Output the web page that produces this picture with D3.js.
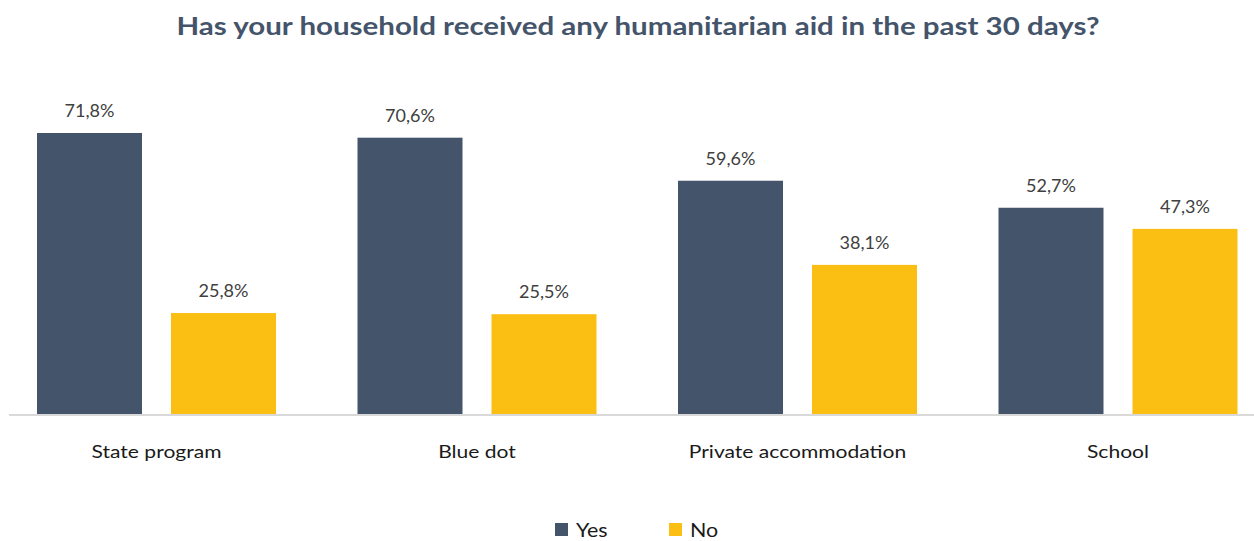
<!DOCTYPE html>
<html><head><meta charset="utf-8">
<script src="https://cdn.jsdelivr.net/npm/d3@7"></script>
<style>body{margin:0;background:#fff}svg{display:block}text{font-family:Lato,"Noto Sans",sans-serif}</style>
</head><body>
<svg id="c" width="1254" height="541"></svg>
<script>
const categories = ["State program", "Blue dot", "Private accommodation", "School"];
const seriesNames = ["Yes", "No"];
const yesValues = [71.8, 70.6, 59.6, 52.7];
const noValues = [25.8, 25.5, 38.1, 47.3];
const colors = ["#44546A", "#FBBF14"];
const title = "Has your household received any humanitarian aid in the past 30 days?";

const data = categories.map((c, i) => ({cat: c, vals: [
  {k: "Yes", v: yesValues[i]}, {k: "No", v: noValues[i]}]}));

const svg = d3.select("#c");
const baseY = 414;
const y = d3.scaleLinear().domain([0, 80]).range([baseY, baseY - 80 * (281 / 71.8)]);
const x0 = d3.scaleBand().domain(categories).range([-3.75, 1278.25]).paddingInner(0).paddingOuter(0);
const x1 = d3.scaleBand().domain(seriesNames).range([40.75, 279.75]).paddingInner(29 / 134).paddingOuter(0);
const color = d3.scaleOrdinal().domain(seriesNames).range(colors);

svg.append("text").attr("transform", "translate(638,35) scale(1.18,1)").attr("text-anchor", "middle")
  .attr("font-size", 25).attr("font-weight", 700).attr("fill", "#44546A").text(title);

// axis line
svg.append("line").attr("x1", 9).attr("x2", 1254).attr("y1", baseY + 1).attr("y2", baseY + 1)
  .attr("stroke", "#D9D9D9").attr("stroke-width", 2);

const g = svg.selectAll("g.cat").data(data).join("g").attr("class", "cat")
  .attr("transform", d => `translate(${x0(d.cat)},0)`);
g.selectAll("rect").data(d => d.vals).join("rect")
  .attr("x", d => x1(d.k)).attr("width", x1.bandwidth())
  .attr("y", d => y(d.v)).attr("height", d => y(0) - y(d.v))
  .attr("fill", d => color(d.k));
g.selectAll("text.val").data(d => d.vals).join("text").attr("class", "val")
  .attr("x", d => x1(d.k) + x1.bandwidth() / 2).attr("y", d => y(d.v) - 16)
  .attr("text-anchor", "middle").attr("font-size", 18).attr("fill", "#404040")
  .text(d => d.v.toFixed(1).replace(".", ",") + "%");

// category axis labels
const xAxis = d3.axisBottom(x0).tickSize(0).tickPadding(0);
const ax = svg.append("g").attr("transform", `translate(0,${baseY})`).call(xAxis);
ax.select(".domain").remove();
ax.selectAll("text").attr("font-size", 18).attr("fill", "#1a1a1a")
  .attr("font-family", "Lato,'Noto Sans',sans-serif").attr("dy", 0).attr("y", null)
  .attr("transform", "translate(0,44) scale(1.17,1)");

// legend
const legX = [555, 669];
const lg = svg.selectAll("g.leg").data(seriesNames).join("g").attr("class", "leg")
  .attr("transform", (d, i) => `translate(${legX[i]},523)`);
lg.append("rect").attr("width", 13).attr("height", 13).attr("fill", d => color(d));
lg.append("text").attr("transform", "translate(21,14) scale(1.13,1)").attr("font-size", 19).attr("fill", "#1a1a1a").text(d => d);
</script>
</body></html>
